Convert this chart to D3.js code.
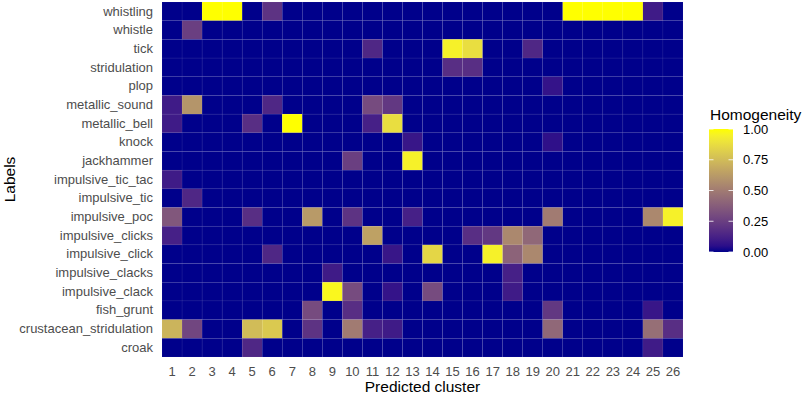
<!DOCTYPE html>
<html>
<head>
<meta charset="utf-8">
<script src="https://cdn.jsdelivr.net/npm/d3@7"></script>
<style>
  body { margin: 0; background: #fff; }
  svg { display: block; font-family: "Liberation Sans", Arial, sans-serif; }
</style>
</head>
<body>
<div id="chart"></div>
<script>
// labels, top to bottom
var labels = ["whistling", "whistle", "tick", "stridulation", "plop", "metallic_sound",
  "metallic_bell", "knock", "jackhammer", "impulsive_tic_tac", "impulsive_tic",
  "impulsive_poc", "impulsive_clicks", "impulsive_click", "impulsive_clacks",
  "impulsive_clack", "fish_grunt", "crustacean_stridulation", "croak"];

var clusters = d3.range(1, 27).map(String);

// homogeneity per label, one value per cluster 1..26
var homogeneity = [
  [0,0,1,1,0,0.2,0,0,0,0,0,0,0,0,0,0,0,0,0,0,1,1,1,1,0.1,0],
  [0,0.25,0,0,0,0,0,0,0,0,0,0,0,0,0,0,0,0,0,0,0,0,0,0,0,0],
  [0,0,0,0,0,0,0,0,0,0,0.15,0,0,0,0.95,0.88,0,0,0.15,0,0,0,0,0,0,0],
  [0,0,0,0,0,0,0,0,0,0,0,0,0,0,0.18,0.18,0,0,0,0,0,0,0,0,0,0],
  [0,0,0,0,0,0,0,0,0,0,0,0,0,0,0,0,0,0,0,0.07,0,0,0,0,0,0],
  [0.1,0.6,0,0,0,0.15,0,0,0,0,0.3,0.22,0,0,0,0,0,0,0,0,0,0,0,0,0,0],
  [0.1,0,0,0,0.18,0,1,0,0,0,0.12,0.88,0,0,0,0,0,0,0,0,0,0,0,0,0,0],
  [0,0,0,0,0,0,0,0,0,0,0,0,0.08,0,0,0,0,0,0,0.06,0,0,0,0,0,0],
  [0,0,0,0,0,0,0,0,0,0.25,0,0,0.95,0,0,0,0,0,0,0,0,0,0,0,0,0],
  [0.1,0,0,0,0,0,0,0,0,0,0,0,0,0,0,0,0,0,0,0,0,0,0,0,0,0],
  [0,0.15,0,0,0,0,0,0,0,0,0,0,0,0,0,0,0,0,0,0,0,0,0,0,0,0],
  [0.35,0,0,0,0.18,0,0,0.62,0,0.2,0,0,0.12,0,0,0,0,0,0,0.5,0,0,0,0,0.55,0.95],
  [0.12,0,0,0,0,0,0,0,0,0,0.65,0,0,0,0,0.18,0.22,0.55,0.42,0,0,0,0,0,0,0],
  [0,0,0,0,0,0.15,0,0,0,0,0,0.08,0,0.85,0,0,0.95,0.4,0.55,0,0,0,0,0,0,0],
  [0,0,0,0,0,0,0,0,0.1,0,0,0,0,0,0,0,0,0.12,0,0,0,0,0,0,0,0],
  [0,0,0,0,0,0,0,0,0.97,0.3,0,0.07,0,0.3,0,0,0,0.1,0,0,0,0,0,0,0,0],
  [0,0,0,0,0,0,0,0.3,0,0.18,0,0,0,0,0,0,0,0,0,0.22,0,0,0,0,0.08,0],
  [0.72,0.28,0,0,0.75,0.8,0,0.2,0,0.5,0.12,0.1,0,0,0,0,0,0,0,0.42,0,0,0,0,0.45,0.18],
  [0,0,0,0,0.15,0,0,0,0,0,0,0,0,0,0,0,0,0,0,0,0,0,0,0,0.1,0]
];

var legendTicks = [0, 0.25, 0.5, 0.75, 1];

var width = 803, height = 395;
var margin = {top: 2, right: 120, bottom: 38, left: 162};

var svg = d3.select("#chart").append("svg")
  .attr("width", width)
  .attr("height", height);

var x = d3.scaleBand().domain(clusters).range([margin.left, width - margin.right]);
var y = d3.scaleBand().domain(labels).range([margin.top, height - margin.bottom]);
var color = d3.scaleLinear().domain([0, 1]).range(["darkblue", "yellow"])
  .interpolate(d3.interpolateLab);

var cells = [];
labels.forEach(function(l, i) {
  clusters.forEach(function(c, j) {
    cells.push({label: l, cluster: c, value: homogeneity[i][j]});
  });
});

svg.append("g").selectAll("rect")
  .data(cells)
  .enter().append("rect")
  .attr("x", function(d) { return x(d.cluster); })
  .attr("y", function(d) { return y(d.label); })
  .attr("width", x.bandwidth())
  .attr("height", y.bandwidth())
  .attr("fill", function(d) { return color(d.value); })
  .attr("stroke", "#ffffff")
  .attr("stroke-opacity", 0.07)
  .attr("stroke-width", 0.6);

// axes (no lines, no ticks)
var xAxis = svg.append("g")
  .attr("transform", "translate(0," + (height - margin.bottom) + ")")
  .call(d3.axisBottom(x).tickSize(0).tickPadding(10));
var yAxis = svg.append("g")
  .attr("transform", "translate(" + margin.left + ",0)")
  .call(d3.axisLeft(y).tickSize(0).tickPadding(9));
[xAxis, yAxis].forEach(function(a) {
  a.select(".domain").remove();
  a.selectAll("text")
    .attr("fill", "#4d4d4d")
    .style("font-size", "13px")
    .style("font-family", "Liberation Sans, Arial, sans-serif");
});

svg.append("text")
  .attr("x", (margin.left + width - margin.right) / 2)
  .attr("y", 392)
  .attr("text-anchor", "middle")
  .style("font-size", "15.5px")
  .text("Predicted cluster");

svg.append("text")
  .attr("transform", "translate(15," + ((margin.top + height - margin.bottom) / 2) + ") rotate(-90)")
  .attr("text-anchor", "middle")
  .style("font-size", "15.5px")
  .text("Labels");

// legend
var lg = svg.append("g");
var ly = d3.scaleLinear().domain([0, 1]).range([252, 129]);
var defs = svg.append("defs");
var grad = defs.append("linearGradient")
  .attr("id", "hgrad")
  .attr("x1", 0).attr("y1", 1).attr("x2", 0).attr("y2", 0);
d3.range(0, 1.0001, 0.05).forEach(function(t) {
  grad.append("stop").attr("offset", t).attr("stop-color", color(t));
});

lg.append("text")
  .attr("x", 710)
  .attr("y", 120)
  .style("font-size", "15.5px")
  .text("Homogeneity");

lg.append("rect")
  .attr("x", 709)
  .attr("y", ly(1))
  .attr("width", 24)
  .attr("height", ly(0) - ly(1))
  .attr("fill", "url(#hgrad)");

lg.selectAll(".tk")
  .data(legendTicks)
  .enter().append("g")
  .each(function(d) {
    var g = d3.select(this);
    g.append("line").attr("x1", 709).attr("x2", 713.5)
      .attr("y1", ly(d)).attr("y2", ly(d))
      .attr("stroke", "#fff").attr("stroke-opacity", 0.8).attr("stroke-width", 1);
    g.append("line").attr("x1", 728.5).attr("x2", 733)
      .attr("y1", ly(d)).attr("y2", ly(d))
      .attr("stroke", "#fff").attr("stroke-opacity", 0.8).attr("stroke-width", 1);
    g.append("text")
      .attr("x", 743)
      .attr("y", ly(d))
      .attr("dy", "0.35em")
      .attr("fill", "#000")
      .style("font-size", "13px")
      .text(d3.format(".2f")(d));
  });
</script>
</body>
</html>
